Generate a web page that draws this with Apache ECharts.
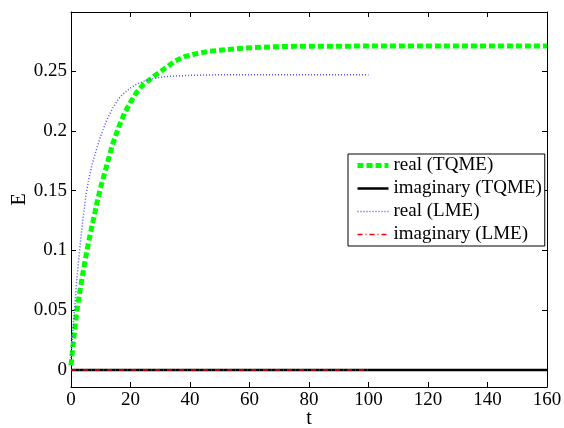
<!DOCTYPE html>
<html><head><meta charset="utf-8">
<script src="https://cdn.jsdelivr.net/npm/echarts@6/dist/echarts.min.js"></script>
<style>html,body{margin:0;padding:0;background:#fff}#c{width:564px;height:428px}</style>
</head><body><div id="c"></div>
<script>
var tTQME = [0,1,2,3,4,5,6,7,8,9,10,11,12,14,16,18,20,22,24,26,28,30,32,35,38,41,46,52,59,67,75,100,130,160];
var realTQME = [0.004,0.028,0.05,0.066,0.081,0.095,0.108,0.12,0.131,0.143,0.153,0.162,0.171,0.189,0.203,0.215,0.224,0.232,0.238,0.242,0.246,0.2495,0.253,0.2585,0.262,0.264,0.2665,0.268,0.2694,0.2703,0.2708,0.271,0.271,0.271];
var tImagTQME = [0,40,80,120,160];
var imagTQME = [0,0,0,0,0];
var tLME = [0,1,2,3,4,5,6,7,8,9,10,12,14,16,18,20,22,25,28,32,36,40,50,60,70,80,90,100];
var realLME = [0.01,0.045,0.077,0.103,0.126,0.146,0.16,0.171,0.18,0.188,0.196,0.209,0.219,0.227,0.232,0.236,0.239,0.242,0.244,0.2455,0.246,0.2465,0.247,0.247,0.247,0.247,0.247,0.247];
var tImagLME = [0,25,50,75,100];
var imagLME = [0,0,0,0,0];
var xTicks = [0,20,40,60,80,100,120,140,160];
var yTicks = [0,0.05,0.1,0.15,0.2,0.25];
var names = ['real (TQME)','imaginary (TQME)','real (LME)','imaginary (LME)'];

function pairs(x,y){return x.map(function(v,i){return [v,y[i]];});}
var font = 'Liberation Serif';
var chart = echarts.init(document.getElementById('c'), null, {renderer:'canvas'});
var axLine = {show:true, onZero:false, lineStyle:{color:'#000', width:1}};
var styles = [
  {color:'#00ff00', width:5, type:[6,3], cap:'butt'},
  {color:'#000000', width:2.5, type:'solid'},
  {color:'#5050ff', width:1.5, type:[1,2]},
  {color:'#ff0000', width:1.5, type:[5,3,1,3]}
];
var yMin = -0.0142, yMax = 0.2995;
chart.setOption({
  animation:false,
  backgroundColor:'#fff',
  grid:{left:71, right:17, top:12, bottom:41, containLabel:false, outerBoundsMode:'none'},
  legend:{
    orient:'vertical', left:348, top:154,
    backgroundColor:'#fff', borderColor:'#000', borderWidth:1,
    padding:[2,3,2,7], itemGap:4, itemWidth:31, itemHeight:14,
    itemStyle:{opacity:0},
    textStyle:{fontFamily:font, fontSize:19, lineHeight:19, color:'#000'},
    data:names.map(function(n,i){return {name:n, lineStyle:styles[i]};})
  },
  xAxis:[{
    type:'value', min:0, max:160, interval:20, position:'bottom',
    name:'t', nameLocation:'middle', nameGap:22, nameMoveOverlap:false,
    nameTextStyle:{fontFamily:font, fontSize:20, color:'#000'},
    axisLine:axLine, splitLine:{show:false},
    axisTick:{inside:true, length:5, lineStyle:{color:'#000'}, customValues:xTicks},
    axisLabel:{fontFamily:font, fontSize:19, color:'#000', margin:4, customValues:xTicks}
  },{
    type:'value', min:0, max:160, position:'top',
    axisLine:axLine, splitLine:{show:false},
    axisTick:{inside:true, length:5, lineStyle:{color:'#000'}, customValues:xTicks},
    axisLabel:{show:false}
  }],
  yAxis:[{
    type:'value', min:yMin, max:yMax, position:'left',
    name:'E', nameLocation:'middle', nameGap:41, nameRotate:90, nameMoveOverlap:false,
    nameTextStyle:{fontFamily:font, fontSize:20, color:'#000'},
    axisLine:axLine, splitLine:{show:false},
    axisTick:{inside:true, length:5, lineStyle:{color:'#000'}, customValues:yTicks},
    axisLabel:{fontFamily:font, fontSize:19, color:'#000', margin:4, customValues:yTicks,
      formatter:function(v){return String(+v.toFixed(2));}}
  },{
    type:'value', min:yMin, max:yMax, position:'right',
    axisLine:axLine, splitLine:{show:false},
    axisTick:{inside:true, length:5, lineStyle:{color:'#000'}, customValues:yTicks},
    axisLabel:{show:false}
  }],
  series:[
    {name:names[0], type:'line', data:pairs(tTQME, realTQME), showSymbol:false, symbol:'none', z:3,
      lineStyle:styles[0], itemStyle:{color:styles[0].color}},
    {name:names[1], type:'line', data:pairs(tImagTQME, imagTQME), showSymbol:false, symbol:'none', z:4,
      lineStyle:styles[1], itemStyle:{color:styles[1].color}},
    {name:names[2], type:'line', data:pairs(tLME, realLME), showSymbol:false, symbol:'none', z:5,
      lineStyle:styles[2], itemStyle:{color:styles[2].color}},
    {name:names[3], type:'line', data:pairs(tImagLME, imagLME), showSymbol:false, symbol:'none', z:6,
      lineStyle:styles[3], itemStyle:{color:styles[3].color}}
  ]
});
</script></body></html>
